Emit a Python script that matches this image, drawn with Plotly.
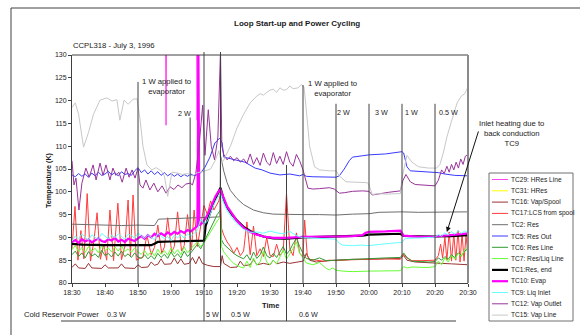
import pandas as pd
import plotly.graph_objects as go

START = pd.Timestamp("1996-07-03 18:30")

# ---- thermocouple readings: minutes after 18:30 and temperature (K) ----
tc29_t = [0, 28.3, 28.5, 28.7, 37.7, 37.9, 38.1, 120]
tc29_v = [142, 141, 114.6, 141, 141, 115.7, 141, 142]

tc31_t = [0, 120]
tc31_v = [146, 146]

tc16_t = [0, 1, 2, 4, 5, 6, 9, 10, 11, 14, 15, 16, 19, 20, 21, 23, 24, 25, 26, 27,
          28, 30, 31, 32, 33, 34, 35.5, 36.5, 37.5, 38.5, 39.5, 41, 43, 45, 45.5, 46, 48, 50, 51, 52,
          54, 55, 56, 58, 60, 61, 62, 64, 66, 68, 70, 71, 72, 74, 76, 78, 80, 85, 90, 95,
          99.5, 100.5, 101.5, 104, 108, 110, 112, 115, 118, 120]
tc16_v = [83.4, 84.2, 83.3, 83.2, 84.3, 83.3, 83.2, 84.0, 83.3, 83.3, 84.2, 83.3, 83.2, 84.0, 83.4, 83.5, 84.6, 83.9, 84.1, 85.3,
          84.1, 84.2, 85.5, 84.2, 85.3, 84.1, 84.3, 85.6, 84.2, 85.8, 84.3, 83.9, 83.6, 83.6, 86.0, 84.3, 83.4, 83.5, 84.8, 83.8,
          84.0, 85.2, 84.0, 84.3, 84.0, 85.0, 84.2, 84.6, 84.3, 84.6, 84.8, 86.5, 85.0, 84.6, 84.8, 84.9, 85.0, 85.2, 85.2, 85.3,
          85.4, 86.0, 85.0, 84.6, 84.5, 84.5, 84.3, 84.2, 84.0, 84.0]

tc17_t = [0, 0.9, 1.8, 2.7, 3.6, 4.6, 5.6, 6.6, 7.6, 8.6, 9.6, 10.5, 11.5, 12.6, 13.9, 15.0, 16.0, 17.0, 17.7, 18.5,
          19.5, 20.5, 21.5, 22.7, 24.0, 25.0, 26.0, 27.2, 28.0, 29.0, 30.2, 31.0, 32.0, 33.2, 34.0, 35.0, 36.2, 37.0, 38.0, 39,
          40, 41, 42, 43, 44.5, 45, 45.3, 46, 47, 48, 49, 50, 51, 52, 53, 54, 55, 56, 57, 58,
          59, 60, 61, 62, 63, 64, 65, 66, 67, 68, 69, 70, 70.5, 71.3, 72, 74, 76, 78, 80, 85,
          90, 95, 99.5, 100.5, 101.5, 103, 106, 110, 111, 111.7, 112.3, 113, 113.6, 114.3, 115, 115.7, 116.3, 117, 117.6, 118.2,
          118.8, 119.4, 120]
tc17_v = [87.5, 96.8, 85.0, 91.5, 85.3, 99.6, 84.8, 89.0, 95.4, 85.2, 88.5, 85.0, 96.0, 84.9, 97.5, 85.1, 88.0, 98.2, 86.0, 99.3,
          85.0, 85.4, 85.6, 90.5, 86.2, 87.8, 92.7, 86.5, 87.9, 94.3, 86.8, 88.0, 95.6, 87.0, 88.2, 95.0, 87.2, 96.0, 88.0, 93.0,
          97.0, 95.0, 98.0, 96.0, 98.0, 99.5, 92.0, 90.5, 89.0, 88.0, 86.5, 87.8, 86.0, 87.0, 93.4, 86.2, 92.5, 86.0, 87.5, 85.8,
          90.0, 86.0, 85.8, 88.5, 86.0, 87.0, 99.7, 87.5, 86.0, 91.0, 86.5, 85.8, 93.8, 86.0, 85.2, 85.0, 84.8, 85.0, 84.9, 85.1,
          85.2, 85.3, 85.2, 86.3, 85.5, 84.9, 84.9, 85.0, 86.0, 88.5, 85.5, 90.0, 85.0, 91.2, 84.8, 90.8, 85.0, 91.5, 84.6, 91.0,
          84.8, 90.5, 86.0]

tc2_t = [0, 5, 10, 15, 20, 24, 25, 26.2, 30, 35, 40, 44.8, 45, 46, 47, 48, 50, 52, 55, 58,
         61, 65, 70, 75, 80, 85, 90, 93, 96, 100, 105, 110, 115, 120]
tc2_v = [92.9, 92.8, 92.6, 92.6, 92.7, 92.5, 92.6, 94.0, 94.1, 94.2, 94.3, 94.5, 108.0, 104.5, 102.0, 100.3, 98.5, 97.2, 96.0, 95.4,
         95.1, 95.0, 95.0, 95.0, 94.9, 95.1, 95.2, 95.5, 95.6, 95.6, 95.5, 95.5, 95.5, 95.6]

tc5_t = list(range(0, 36)) + [36, 37, 38.8, 40.3, 41.8, 43.3, 44.8, 45.5, 46, 47.3,
                              49.4, 52.4, 55.5, 57.6, 60, 63, 66, 69, 70, 71,
                              73, 76, 80, 81, 82.5, 84, 85, 88, 90, 95,
                              100, 100.5, 101.5, 102.5, 105, 110, 111, 113, 116, 120]
tc5_v = [103.7, 103.3, 104.0, 103.4, 103.9, 103.2, 104.1, 103.5, 104.3, 103.6, 103.9, 104.5, 103.7, 104.2, 103.5, 104.4, 103.8, 104.0,
         103.6, 104.6, 105.3, 104.2, 104.8, 103.9, 104.6, 103.8, 104.4, 103.6, 104.2, 103.5, 104.0, 103.4, 103.9, 103.3, 103.8, 103.4,
         103.9, 103.5, 104.0, 105.4, 107.6, 110.7, 111.8, 110.7, 107.6, 107.4,
         107.0, 106.5, 105.2, 104.8, 104.1, 103.7, 103.9, 103.5, 103.8, 103.4,
         103.3, 103.2, 103.2, 103.5, 105.0, 106.8, 107.6, 107.9, 108.1, 108.3,
         108.8, 108.5, 105.5, 104.6, 104.5, 104.3, 104.2, 103.9, 103.6, 103.5]

tc6_t = list(range(0, 39)) + [39, 40, 41, 42, 43, 44, 45, 45.3] + list(range(46, 71)) + \
        [71, 73, 75, 77, 80, 85, 90, 95, 99.5, 100.5, 101.5, 103, 108, 110, 111, 112, 113, 114, 115, 116, 117, 118, 119, 120]
tc6_v = [86.2, 87.0, 85.8, 86.6, 85.5, 86.9, 85.9, 86.4, 85.6, 87.2, 86.0, 86.5, 85.7, 86.8, 85.9, 87.0, 85.8, 86.4, 85.6, 86.6,
         85.7, 85.4, 86.2, 85.3, 86.0, 85.2, 86.5, 85.6, 86.3, 85.4, 86.8, 85.7, 86.4, 85.5, 87.0, 85.8, 86.6, 87.5, 88.5,
         87.5, 89.0, 90.5, 92.0, 93.5, 95.0, 96.0, 89.5,
         88.5, 87.8, 87.2, 86.5, 86.0, 85.6, 85.3, 86.2, 85.0, 86.8, 85.4, 86.2, 87.9, 86.0, 85.5, 86.5, 85.6, 86.8, 88.0, 86.3,
         87.2, 88.6, 89.8, 88.0, 86.5,
         85.4, 85.0, 85.5, 84.9, 85.0, 85.2, 85.4, 85.5, 85.6, 86.6, 85.6, 84.8, 84.6, 84.7, 85.5, 85.0, 85.8, 85.2, 86.2, 85.6,
         86.6, 86.0, 87.0, 87.5]

tc7_t = list(range(0, 39)) + [39, 40, 41, 42, 43, 44, 45, 45.3] + list(range(46, 71)) + \
        [71, 73, 75, 77, 78, 79, 80, 82, 85, 90, 95, 99.5, 100.5, 101.5, 103, 108, 110, 111, 112, 113,
         114, 115, 116, 117, 118, 119, 120]
tc7_v = [87.3, 88.2, 86.9, 87.8, 86.7, 88.0, 87.0, 87.6, 86.6, 88.3, 87.1, 87.7, 86.8, 87.9, 87.0, 88.1, 86.9, 87.5, 86.7, 87.7,
         86.8, 86.3, 87.1, 86.0, 86.9, 85.9, 87.4, 86.3, 87.1, 86.1, 87.7, 86.4, 87.3, 86.2, 87.9, 86.6, 87.5, 88.2, 89.0,
         88.0, 88.8, 90.0, 91.3, 92.5, 93.6, 94.5, 88.0,
         86.8, 85.8, 85.0, 84.3, 83.8, 83.5, 83.3, 84.8, 83.4, 85.5, 83.9, 84.6, 87.0, 84.6, 84.0, 85.0, 84.2, 85.8, 87.2, 85.2,
         86.3, 87.6, 89.0, 86.5, 85.5,
         84.4, 84.0, 84.5, 83.2, 82.9, 83.3, 82.8, 82.6, 82.5, 82.6, 82.6, 82.7, 83.6, 83.3, 83.5, 83.4, 83.6, 84.8, 84.0, 85.5,
         84.6, 86.0, 85.2, 86.5, 85.8, 87.3, 88.0]

tc1_t = [0, 3, 10, 20, 24, 25, 26, 30, 35, 40, 40.5, 41.5, 42.5, 43.5, 44.5, 45, 46, 47, 48.5, 50,
         52, 54, 56, 58, 61, 65, 70, 80, 88, 90, 95, 99.5, 100.5, 105, 110, 115, 120]
tc1_v = [88.6, 88.4, 88.3, 88.2, 88.3, 88.6, 89.0, 89.1, 89.2, 89.3, 92.5, 94.8, 96.8, 98.6, 100.2, 100.9, 98.2, 96.6, 95.0, 93.7,
         92.3, 91.4, 90.7, 90.2, 89.8, 89.7, 90.0, 90.2, 90.4, 90.6, 90.7, 90.8, 90.3, 90.2, 90.2, 90.3, 90.5]

tc10_t = list(range(0, 39)) + [38.3, 38.6, 39.5, 40.5, 41.5, 42.5, 43.5, 44.5,
                               45, 46, 47, 48.5, 50, 52, 54, 56, 58, 61,
                               65, 70, 75, 80, 85, 88, 89, 90, 95, 99.5,
                               100.5, 105, 110, 112, 115, 118, 120]
tc10_v = [89.0, 89.4, 88.8, 89.6, 89.1, 89.5, 88.9, 89.3, 89.8, 89.2, 89.0, 89.6, 89.3, 89.9, 89.1, 89.5, 89.0, 89.7, 89.4, 89.2,
          89.8, 90.3, 89.7, 90.5, 90.0, 90.8, 90.3, 90.9, 90.4, 91.1, 90.6, 91.2, 90.8, 91.4, 91.0, 91.6, 91.3, 91.8, 92.5,
          131.0, 92.6, 93.2, 94.2, 95.6, 97.3, 99.0, 100.2,
          100.5, 98.6, 96.8, 95.2, 93.6, 92.1, 91.2, 90.6, 90.2, 89.9,
          89.9, 90.1, 90.1, 90.2, 90.3, 90.5, 91.0, 91.2, 91.3, 91.5,
          90.4, 90.1, 90.2, 90.3, 90.4, 90.7, 90.9]

tc9_t = list(range(0, 39)) + [39, 40, 41, 42, 43, 44, 45, 46, 47, 48.5,
                              50, 52, 54, 56, 58, 60, 62, 64, 66, 68,
                              70, 72, 75, 78, 80, 81, 82, 85, 88, 90,
                              92, 95, 98, 100, 101, 103, 106, 109, 110, 111,
                              112, 113, 114, 115, 116, 117, 118, 119, 120]
tc9_v = [89.2, 90.3, 89.6, 90.8, 90.0, 89.4, 90.6, 90.1, 89.5, 90.9, 90.3, 89.7, 90.5, 89.9, 90.8, 90.2, 89.6, 90.7, 90.4, 89.8,
         91.0, 90.3, 89.8, 90.6, 90.0, 89.5, 90.9, 90.4, 89.7, 90.2, 89.3, 90.5, 89.9, 90.6, 89.8, 90.8, 90.2, 90.9, 91.5,
         94.0, 93.0, 93.5, 95.5, 97.2, 98.6, 99.5, 97.5, 95.8, 94.3,
         93.0, 91.8, 91.1, 91.2, 90.9, 91.4, 91.0, 90.8, 91.3, 90.4,
         89.9, 89.9, 89.8, 89.7, 89.6, 88.7, 88.3, 88.2, 88.3, 88.2,
         88.3, 88.6, 88.8, 88.9, 89.8, 89.9, 89.9, 90.0, 90.1, 90.6,
         90.3, 91.0, 90.5, 91.3, 90.7, 91.5, 90.9, 91.4, 91.1]

tc12_t = [0, 0.6, 1.2, 2.1, 3, 4.2, 5.2, 6.4, 7.3, 8.5, 9.4, 10.3, 11.5, 12.4, 13.3, 14.2, 15.2, 16.4, 17.3, 18.2,
          19.1, 20, 20.6, 21.5, 22.4, 23.6, 24.8, 26, 27.3, 28.5, 29.7, 30.9, 32.1, 33.3, 34.5, 35.8, 36.5, 37.5, 38.5, 39.6,
          40.3, 41.3, 42.2, 43.2, 44.2, 45, 45.4] + list(range(46, 70)) + \
         [70, 71.5, 73, 75, 78, 79.5, 81, 82.5, 85, 88, 90, 91, 93, 96, 99.5, 100.3, 101.2, 102.5, 104, 107,
          110, 111, 112, 112.8, 113.6, 114.3, 115, 115.7, 116.4, 117.1, 117.8, 118.5, 119.2, 120]
tc12_v = [106.8, 101.5, 103.0, 96.0, 101.9, 105.2, 103.2, 105.9, 102.6, 106.3, 103.6, 105.9, 102.6, 105.2, 103.6, 104.3, 102.1, 105.2, 103.2, 104.8,
          103.0, 105.2, 101.5, 100.8, 102.6, 100.4, 101.9, 100.0, 101.3, 99.7, 101.1, 100.5, 101.5, 100.9, 101.7, 101.9, 101.5, 104.0, 110.0, 119.0,
          108.0, 118.0, 110.0, 107.0, 112.0, 131.0, 110.0,
          108.2, 107.0, 107.8, 106.8, 107.5, 106.5, 107.2, 106.2, 108.3, 106.0, 107.5, 105.8, 108.5, 106.5, 105.8, 108.6, 106.2, 107.8,
          106.0, 108.8, 106.5, 105.6, 108.2, 106.8,
          104.8, 100.8, 100.6, 100.7, 100.9, 100.6, 99.7, 99.8, 100.1, 100.2, 100.1, 99.3, 99.6, 99.9, 100.2, 102.5, 103.8, 102.2, 101.6, 101.4,
          101.3, 102.5, 104.8, 104.0, 105.6, 104.3, 106.0, 104.8, 106.5, 105.2, 107.2, 106.0, 107.8, 108.2]

tc15_t = [0, 1, 2, 3.5, 5, 6.5, 8.5, 10.6, 12.1, 13.6, 14.5, 15.8, 17, 18.5, 19.7, 20.6, 21.5, 22.7, 24.2, 25.5,
          27, 28, 29, 30.3, 32, 33.5, 35, 36.5, 38, 40, 42, 43.5, 44.5, 45.3, 46, 48, 50, 52, 54, 56,
          57, 58, 59, 60, 61, 62, 63, 64, 65, 66, 67, 68.5, 69.5, 70.3, 71, 72, 73.5, 75, 78, 80,
          81, 83, 86, 89.5, 90, 91, 93, 95, 99.5, 100, 101.5, 103, 105, 108, 110.5, 111.5, 112.5, 113.6, 115, 116.7,
          118, 119, 120]
tc15_v = [118.5, 119.5, 117.0, 109.8, 113.0, 117.0, 120.1, 120.6, 119.9, 120.2, 115.7, 120.1, 119.2, 120.3, 120.4, 116.0, 110.0, 105.9, 104.8, 105.3,
          104.6, 103.5, 99.0, 104.3, 104.1, 103.8, 104.0, 103.5, 104.2, 104.5, 105.0, 107.0, 109.0, 106.3, 107.0, 110.0, 114.0, 117.0, 119.5, 121.0,
          121.5, 121.2, 121.8, 122.3, 122.5, 121.8, 122.8, 122.3, 122.4, 123.2, 122.6, 122.8, 123.5, 123.0, 118.0, 110.0, 105.5, 104.8, 104.6, 104.6,
          103.5, 102.2, 102.1, 102.0, 101.5, 99.4, 99.6, 99.5, 99.6, 103.0, 108.0, 106.5, 105.5, 105.2, 105.2, 106.0, 108.5, 112.0, 115.5, 119.5,
          121.0, 121.5, 123.0]

series_names = ["TC29: HRes Line", "TC31: HRes", "TC16: Vap/Spool", "TC17:LCS from spool", "TC2: Res",
                "TC5: Res Out", "TC6: Res Line", "TC7: Res/Liq Line", "TC1:Res, end", "TC10: Evap",
                "TC9: Liq Inlet", "TC12: Vap Outlet", "TC15: Vap Line"]
series_times = [tc29_t, tc31_t, tc16_t, tc17_t, tc2_t, tc5_t, tc6_t, tc7_t, tc1_t, tc10_t, tc9_t, tc12_t, tc15_t]
series_values = [tc29_v, tc31_v, tc16_v, tc17_v, tc2_v, tc5_v, tc6_v, tc7_v, tc1_v, tc10_v, tc9_v, tc12_v, tc15_v]

# evaporator power steps and cold reservoir power schedule
evap_on_times = [20, 70]                      # "1 W applied to evaporator"
evap_step_times = [35.8, 80, 90, 100, 110]
evap_step_labels = ["2 W", "2 W", "3 W", "1 W", "0.5 W"]
cold_change_times = [40, 45, 65]
cold_power_labels = ["0.3 W", "5 W", "0.5 W", "0.6 W"]

# ---- styling ----
colors = ["#FF44EE", "#FFFF00", "#993333", "#FF3B3B", "#6E6E6E", "#3A3AFF", "#339933",
          "#66FF33", "#000000", "#FF00FF", "#66FFFF", "#993399", "#C8C8C8"]
widths = [1, 1, 1, 1, 1, 1, 1, 1, 2.2, 2.2, 1, 1, 1]
FONT = "Arial, 'Liberation Sans', sans-serif"
INK = "#1a1a1a"
AXIS = "#404040"


def clock(minutes):
    return [START + pd.Timedelta(minutes=float(m)) for m in minutes]


# page-pixel helpers (plot area spans x 72..468, y 55..283)
def fx(p):
    return (p - 72) / 396


def fy(p):
    return (283 - p) / 228


fig = go.Figure()
for name, t, v, c, w in zip(series_names, series_times, series_values, colors, widths):
    assert len(t) == len(v), name
    fig.add_trace(go.Scatter(x=clock(t), y=v, mode="lines", name=name,
                             line=dict(color=c, width=w), showlegend=False, hoverinfo="skip"))

shapes = []
# plot-area frame
shapes.append(dict(type="line", xref="paper", yref="paper", x0=0, x1=1, y0=1, y1=1,
                   line=dict(color=AXIS, width=1)))
shapes.append(dict(type="line", xref="paper", yref="paper", x0=1, x1=1, y0=0, y1=1,
                   line=dict(color="#8a8a8a", width=2)))
# outer chart frame
shapes.append(dict(type="line", xref="paper", yref="paper", x0=fx(11), x1=fx(11), y0=fy(340), y1=fy(8),
                   line=dict(color=AXIS, width=1)))
shapes.append(dict(type="line", xref="paper", yref="paper", x0=fx(11), x1=fx(585), y0=fy(8), y1=fy(8),
                   line=dict(color=AXIS, width=1)))

# marker lines for power changes
evap_on_tops = [124.1, 123.4]
for t, top in zip(evap_on_times, evap_on_tops):
    shapes.append(dict(type="line", xref="x", yref="y", x0=clock([t])[0], x1=clock([t])[0], y0=80, y1=top,
                       line=dict(color=AXIS, width=1)))
step_tops = [116.3, 119.3, 119.3, 119.3, 119.3]
for t, top in zip(evap_step_times, step_tops):
    shapes.append(dict(type="line", xref="x", yref="y", x0=clock([t])[0], x1=clock([t])[0], y0=80, y1=top,
                       line=dict(color=AXIS, width=1)))
cold_tops = [fy(52), fy(52), fy(165)]
for t, top in zip(cold_change_times, cold_tops):
    shapes.append(dict(type="line", xref="x", yref="paper", x0=clock([t])[0], x1=clock([t])[0], y0=fy(321), y1=top,
                       line=dict(color=AXIS, width=1)))
shapes.append(dict(type="line", xref="paper", yref="paper", x0=fx(61), x1=fx(456), y0=fy(321), y1=fy(321),
                   line=dict(color=AXIS, width=1)))

# hand-built legend box
shapes.append(dict(type="rect", xref="paper", yref="paper", x0=fx(489), x1=fx(573), y0=fy(321), y1=fy(173),
                   line=dict(color="#707070", width=1), fillcolor="white"))
annotations = []
for i, (name, c, w) in enumerate(zip(series_names, colors, widths)):
    yy = 179.5 + i * 11.3
    shapes.append(dict(type="line", xref="paper", yref="paper", x0=fx(492), x1=fx(508), y0=fy(yy), y1=fy(yy),
                       line=dict(color=c, width=w)))
    annotations.append(dict(xref="paper", yref="paper", x=fx(509), y=fy(yy), text=name, showarrow=False,
                            xanchor="left", yanchor="middle", font=dict(size=6.6, color=INK, family=FONT)))


def note(text, px, py, size=7.7, anchor="center", bold=False, angle=0):
    if bold:
        text = "<b>" + text + "</b>"
    annotations.append(dict(xref="paper", yref="paper", x=fx(px), y=fy(py), text=text, showarrow=False,
                            xanchor=anchor, yanchor="middle", textangle=angle, align="center",
                            font=dict(size=size, color=INK, family=FONT)))


note("Loop Start-up and Power Cycling", 297, 23, size=8, bold=True)
note("CCPL318 - July 3, 1996", 71, 45, size=7.7, anchor="left")
note("Temperature (K)", 48, 180, size=7.2, bold=True, angle=-90)
note("Time", 270, 305, size=7.5, bold=True)
note("1 W applied to<br>evaporator", 166, 86)
note("1 W applied to<br>evaporator", 332, 88)
for lbl, px in zip(evap_step_labels, [184, 343, 381, 411, 448]):
    note(lbl, px, 112 if px > 300 else 113, size=7.2)
note("Inlet heating due to<br>back conduction<br>TC9", 511, 133)
note("Cold Reservoir Power", 22, 314, anchor="left")
for lbl, px in zip(cold_power_labels, [116, 212, 240, 308]):
    note(lbl, px, 314, size=7.2)

# arrow pointing at the liquid-inlet reading
annotations.append(dict(xref="x", yref="y", x=clock([113.6])[0], y=91.2, text="", showarrow=True,
                        ax=32, ay=-102, axref="pixel", ayref="pixel", arrowhead=2, arrowsize=1,
                        arrowwidth=1, arrowcolor="#111111", standoff=0))

fig.update_layout(
    width=580, height=335,
    margin=dict(l=72, r=112, t=55, b=52, pad=0),
    paper_bgcolor="white", plot_bgcolor="white",
    font=dict(family=FONT, size=7, color=INK),
    shapes=shapes, annotations=annotations, showlegend=False,
    xaxis=dict(type="date", range=[START, START + pd.Timedelta(minutes=120)],
               tick0=START, dtick=600000, tickformat="%H:%M",
               showgrid=False, zeroline=False, showline=True, linecolor=AXIS, linewidth=1,
               ticks="outside", ticklen=3, tickcolor=AXIS, tickfont=dict(size=7, color=INK, family=FONT)),
    yaxis=dict(range=[80, 130], tick0=80, dtick=5,
               showgrid=False, zeroline=False, showline=True, linecolor=AXIS, linewidth=1,
               ticks="outside", ticklen=3, tickcolor=AXIS, tickfont=dict(size=7, color=INK, family=FONT)),
)

fig.write_html("out.html")
